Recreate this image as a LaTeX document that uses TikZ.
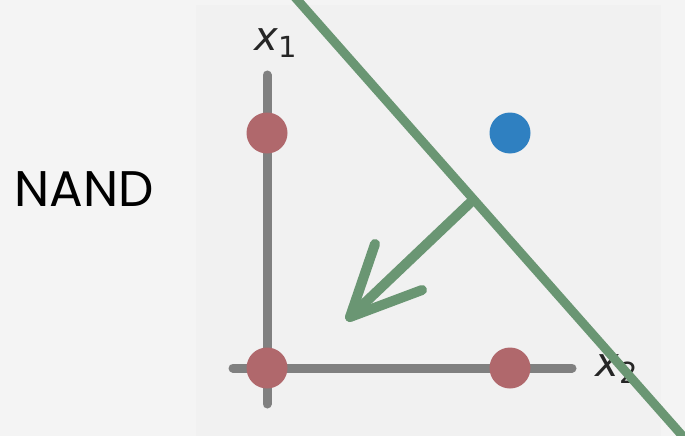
\documentclass[tikz,border=0pt]{standalone}
\usepackage{fontspec}
\setmainfont{DejaVu Sans}
\newfontfamily\nandfont{Poppins}
\newfontfamily\axfont{DejaVu Sans}
\definecolor{outerbg}{HTML}{F4F4F4}
\definecolor{panelbg}{HTML}{F1F1F1}
\definecolor{lgreen}{HTML}{6A9673}
\definecolor{axgray}{HTML}{808080}
\definecolor{dotred}{HTML}{B0686C}
\definecolor{dotblue}{HTML}{2F80C1}
\tikzset{
  axisline/.style={draw=axgray, line width=9pt, line cap=round},
  greenline/.style={draw=lgreen, line width=9pt},
  greenarrow/.style={draw=lgreen, line width=10pt, line cap=round, line join=round},
  reddot/.style={circle, fill=dotred, minimum size=41pt, inner sep=0pt},
  bluedot/.style={circle, fill=dotblue, minimum size=41pt, inner sep=0pt},
  axlabel/.style={inner sep=0pt, text=black!85, font=\axfont\fontsize{40}{40}\selectfont\itshape},
}
\begin{document}
\begin{tikzpicture}[x=1pt, y=-1pt]
  \fill[outerbg] (0,0) rectangle (685,436);
  \fill[panelbg] (196,5) rectangle (661,436);
  \useasboundingbox (0,0) rectangle (685,436);
  % axes
  \coordinate (vtop) at (267,75);
  \coordinate (vbot) at (267,404);
  \coordinate (hleft) at (233,368);
  \coordinate (hright) at (572,368);
  \draw[axisline] (vtop) -- (vbot);
  \draw[axisline] (hleft) -- (hright);
  % dots
  \node[reddot] (p01) at (267,133) {};
  \node[reddot] (p00) at (267,368) {};
  \node[reddot] (p10) at (510,368) {};
  \node[bluedot] (p11) at (510,133) {};
  % labels
  \node[axlabel] (lx1) at (276,43) {x\raisebox{-7pt}{\fontsize{29}{29}\selectfont\upshape 1}};
  \node[axlabel] (lx2) at (617,369) {x\raisebox{-7pt}{\fontsize{29}{29}\selectfont\upshape 2}};
  % separating line
  \coordinate (ltop) at (293,-5);
  \coordinate (lbot) at (687,441);
  \draw[greenline] (ltop) -- (lbot);
  % normal arrow
  \coordinate (nstart) at (472,201);
  \coordinate (ntip) at (350,317);
  \coordinate (arm1) at (375,244);
  \coordinate (arm2) at (422,290);
  \draw[greenarrow] (nstart) -- (ntip);
  \draw[greenarrow] (arm1) -- (ntip) -- (arm2);
  % title
  \node[inner sep=0pt, font=\nandfont\fontsize{50}{50}\selectfont] (title) at (84,189) {NAND};
\end{tikzpicture}
\end{document}
